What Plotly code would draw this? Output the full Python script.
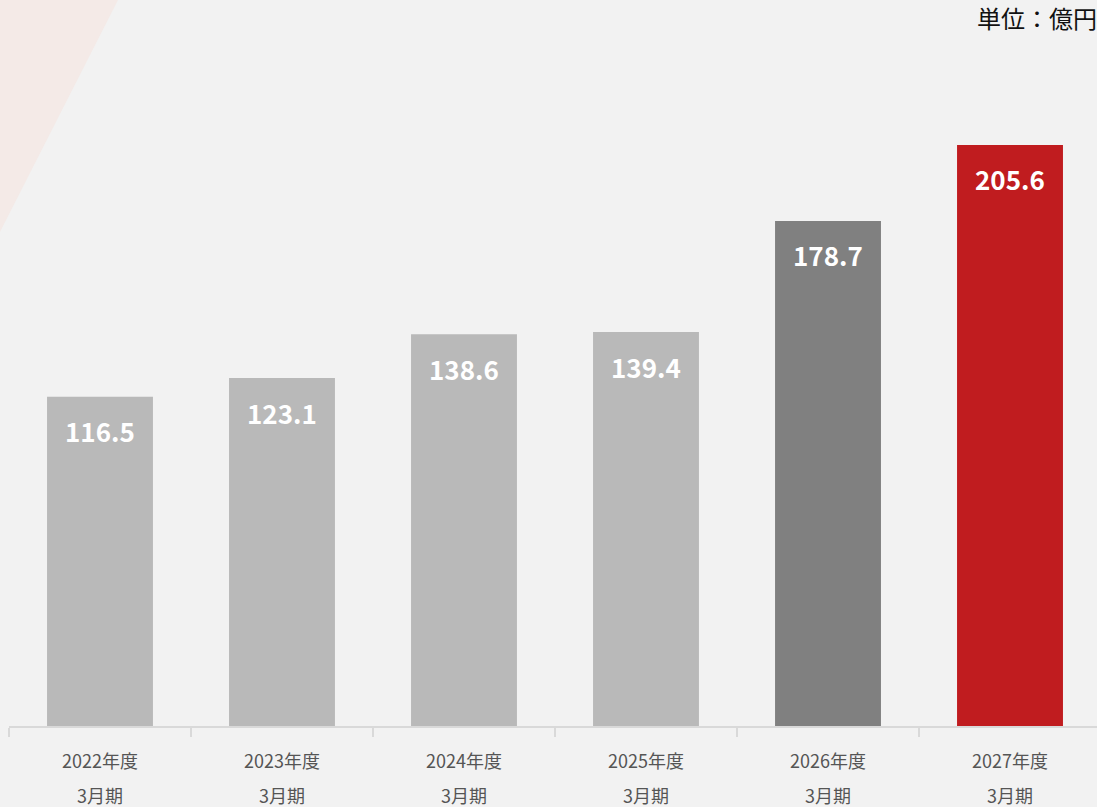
import plotly.graph_objects as go

years = ["2022年度", "2023年度", "2024年度", "2025年度", "2026年度", "2027年度"]
periods = ["3月期", "3月期", "3月期", "3月期", "3月期", "3月期"]
values = [116.5, 123.1, 138.6, 139.4, 178.7, 205.6]
bar_colors = ["#b9b9b9", "#b9b9b9", "#b9b9b9", "#b9b9b9", "#808080", "#c01c1f"]
unit_label = "単位：億円"

FONT = "Noto Sans CJK JP"

fig = go.Figure()
fig.add_trace(go.Bar(
    x=years, y=values, marker=dict(color=bar_colors, line=dict(width=0)),
    width=0.582, hoverinfo="skip",
))

annotations = []
for yr, pr, v in zip(years, periods, values):
    annotations.append(dict(x=yr, y=v, xref="x", yref="y", text=f"<b>{v:.1f}</b>",
                            showarrow=False, yanchor="middle", yshift=-34,
                            font=dict(family=FONT, size=26, color="white")))
    annotations.append(dict(x=yr, y=0, xref="x", yref="paper", text=yr,
                            showarrow=False, yanchor="middle", yshift=-34,
                            font=dict(family=FONT, size=18, color="#555555")))
    annotations.append(dict(x=yr, y=0, xref="x", yref="paper", text=pr,
                            showarrow=False, yanchor="middle", yshift=-69,
                            font=dict(family=FONT, size=18, color="#555555")))
annotations.append(dict(x=1, y=1, xref="paper", yref="paper", text=unit_label,
                        showarrow=False, xanchor="right", yanchor="middle",
                        xshift=2, yshift=3, font=dict(family=FONT, size=24, color="#111111")))

# pale pink diagonal in the top-left corner (paper coords)
def px2paper(px, py):
    return (px - 9) / 1088, (726 - py) / 706

x0, y0 = px2paper(0, 0)
x1, y1 = px2paper(118, 0)
x2, y2 = px2paper(0, 232)
shapes = [dict(type="path", xref="paper", yref="paper", layer="below",
               path=f"M {x0} {y0+0.05} L {x1+0.002} {y0+0.05} L {x1} {y1} L {x2} {y2} Z",
               fillcolor="#f4eae7", line=dict(width=0))]

fig.update_layout(
    width=1097, height=807,
    margin=dict(l=9, r=0, t=20, b=81),
    paper_bgcolor="#f2f2f2", plot_bgcolor="#f2f2f2",
    showlegend=False,
    annotations=annotations,
    shapes=shapes,
    bargap=0.418,
    xaxis=dict(type="category", range=[-0.5, 5.478], showgrid=False, zeroline=False,
               showline=True, linecolor="#d9d9d9", linewidth=2,
               tickson="boundaries", ticks="outside", ticklen=9, tickcolor="#d9d9d9",
               tickwidth=2, showticklabels=False, fixedrange=True),
    yaxis=dict(range=[0, 249.8], visible=False, fixedrange=True),
    font=dict(family=FONT),
)

fig.write_html("out.html", config={"displayModeBar": False},
               post_script="document.body.style.margin='0';document.body.style.overflow='hidden';document.body.style.background='#f2f2f2';")
